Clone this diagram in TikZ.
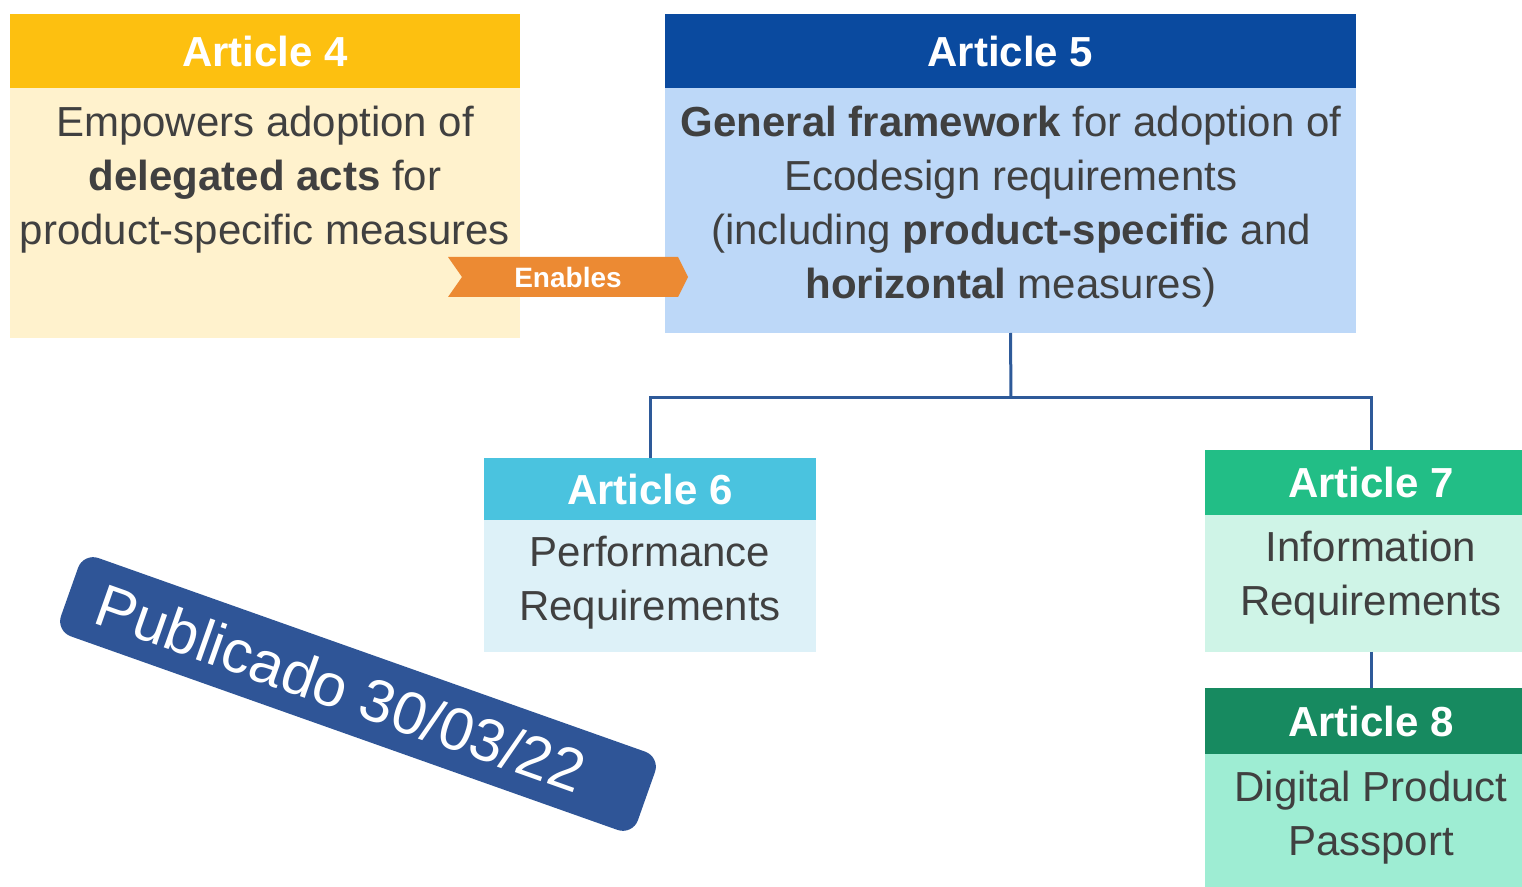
\documentclass[tikz,border=0pt]{standalone}
\usepackage{fontspec}
\setmainfont{Liberation Sans}
\definecolor{a4head}{HTML}{FDC010}
\definecolor{a4body}{HTML}{FFF2CD}
\definecolor{a5head}{HTML}{0A4A9F}
\definecolor{a5body}{HTML}{BDD8F8}
\definecolor{a6head}{HTML}{4AC3DF}
\definecolor{a6body}{HTML}{DDF1F8}
\definecolor{a7head}{HTML}{22BE86}
\definecolor{a7body}{HTML}{CFF4E7}
\definecolor{a8head}{HTML}{178A60}
\definecolor{a8body}{HTML}{9EEDD3}
\definecolor{enab}{HTML}{EC8A33}
\definecolor{badgecol}{HTML}{2F5597}
\definecolor{conncol}{HTML}{2E5A99}
\definecolor{txt}{HTML}{404040}
\begin{document}
\begin{tikzpicture}[x=0.5pt,y=-0.5pt,
  box/.style={draw=none,inner sep=0pt,outer sep=0pt,anchor=north west},
  headbox/.style={box,text=white,font=\fontsize{21}{25}\selectfont\bfseries},
  btext/.style={inner sep=0pt,outer sep=0pt,anchor=north,align=center,text=txt,font=\fontsize{21}{27}\selectfont},
  conn/.style={draw=conncol,line width=1.5pt},
]
\useasboundingbox (0,0) rectangle (1522,887);
\fill[white] (0,0) rectangle (1522,887);

% Article 4
\node[headbox,fill=a4head,minimum width=255pt,minimum height=37pt] (a4head) at (10,14) {Article 4};
\node[box,fill=a4body,minimum width=255pt,minimum height=125pt] (a4body) at (10,88) {};
\node[btext] (a4text) at (265,106) {Empowers adoption of\\\textbf{delegated acts} for\\product-specific measures};

% Article 5
\node[headbox,fill=a5head,minimum width=345.5pt,minimum height=37pt] (a5head) at (665,14) {Article 5};
\node[box,fill=a5body,minimum width=345.5pt,minimum height=122.5pt] (a5body) at (665,88) {};
\node[btext] (a5text) at (1011,106) {\textbf{General framework} for adoption of\\Ecodesign requirements\\(including \textbf{product-specific} and\\\textbf{horizontal} measures)};

% Enables chevron
\fill[enab] (448,257) -- (678,257) -- (688,277) -- (678,297) -- (448,297) -- (462,277) -- cycle;
\node[text=white,font=\fontsize{14}{16}\selectfont\bfseries,inner sep=0pt] (enables) at (568,277) {Enables};

% Article 6
\node[headbox,fill=a6head,minimum width=166pt,minimum height=31pt] (a6head) at (484,458) {Article 6};
\node[box,fill=a6body,minimum width=166pt,minimum height=66pt] (a6body) at (484,520) {};
\node[btext] (a6text) at (650,536) {Performance\\Requirements};

% Article 7
\node[headbox,fill=a7head,minimum width=166pt,minimum height=32.5pt] (a7head) at (1205,450) {Article 7};
\node[box,fill=a7body,minimum width=166pt,minimum height=68.5pt] (a7body) at (1205,515) {};
\node[btext] (a7text) at (1371,531) {Information\\Requirements};

% Article 8
\node[headbox,fill=a8head,minimum width=166pt,minimum height=33pt] (a8head) at (1205,688) {Article 8};
\node[box,fill=a8body,minimum width=166pt,minimum height=70pt] (a8body) at (1205,754) {};
\node[btext] (a8text) at (1371,771) {Digital Product\\Passport};

% connectors
\coordinate (j) at (1011,398);
\draw[conn] (a5body.south) -- (j);
\draw[conn] (a6head.north) |- (j) -| (a7head.north);
\draw[conn] (a7body.south) -- (a8head.north);

% badge
\node[fill=badgecol,rounded corners=8pt,minimum width=306pt,minimum height=41.5pt,rotate=-19.5,inner sep=0pt] (badge) at (358,694) {};
\node[text=white,font=\fontsize{30}{32}\selectfont,rotate=-19.5,inner sep=0pt] (badgetext) at (341,688) {Publicado 30/03/22};
\end{tikzpicture}
\end{document}
